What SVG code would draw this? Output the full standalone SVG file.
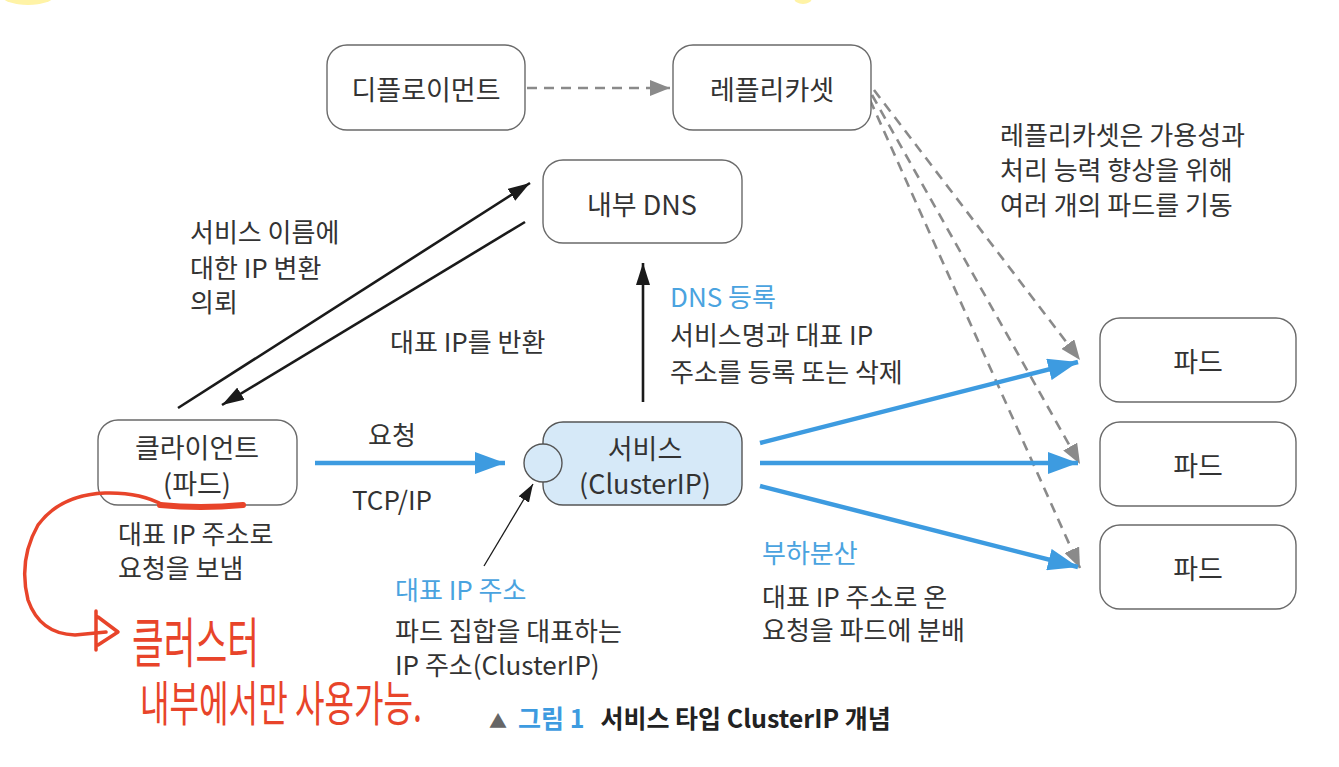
<svg xmlns="http://www.w3.org/2000/svg" width="1339" height="767" viewBox="0 0 1339 767">
<style>
text{font-family:"Noto Sans CJK KR","Noto Sans",sans-serif;font-size:26px;fill:#333}
.c{text-anchor:middle;dominant-baseline:central;font-size:27px}
.b{fill:#4aa3df}
.box{fill:#fff;stroke:#6a6a6a;stroke-width:1.4}
.svc{fill:#d6e9f8;stroke:#555;stroke-width:1.4}
.blk{stroke:#1a1a1a;stroke-width:2.6;fill:none}
.blu{stroke:#3d9be0;stroke-width:4.5;fill:none}
.dsh{stroke:#8a8a8a;stroke-width:2.6;stroke-dasharray:10 7;fill:none}
.red{stroke:#e8442a;fill:none;stroke-linecap:round;stroke-linejoin:round}
.hw{fill:#e8442a}
</style>
<defs>
<marker id="ak" markerUnits="userSpaceOnUse" markerWidth="24" markerHeight="14" refX="22" refY="7" orient="auto"><path d="M0,0 L22,7 L0,14 Z" fill="#1a1a1a"/></marker>
<marker id="ak2" markerUnits="userSpaceOnUse" markerWidth="20" markerHeight="12" refX="18" refY="6" orient="auto"><path d="M0,0 L18,6 L0,12 Z" fill="#1a1a1a"/></marker>
<marker id="ab" markerUnits="userSpaceOnUse" markerWidth="32" markerHeight="22" refX="30" refY="11" orient="auto"><path d="M0,0 L30,11 L0,22 Z" fill="#3d9be0"/></marker>
<marker id="ag" markerUnits="userSpaceOnUse" markerWidth="22" markerHeight="16" refX="20" refY="8" orient="auto"><path d="M0,0 L20,8 L0,16 Z" fill="#8a8a8a"/></marker>
</defs>
<rect width="1339" height="767" fill="#fff"/>
<ellipse cx="28" cy="-4" rx="26" ry="9" fill="#fff3a6"/>
<ellipse cx="803" cy="-2" rx="9" ry="6" fill="#fff3a6"/>

<g id="connectors">
<line class="dsh" x1="527" y1="88" x2="670" y2="88" marker-end="url(#ag)"/>
<line class="dsh" x1="874" y1="90" x2="1080" y2="360" marker-end="url(#ag)"/>
<line class="dsh" x1="872" y1="95" x2="1080" y2="464" marker-end="url(#ag)"/>
<line class="dsh" x1="870" y1="100" x2="1080" y2="568" marker-end="url(#ag)"/>
<line class="blk" x1="178" y1="408" x2="530" y2="183" marker-end="url(#ak)"/>
<line class="blk" x1="525" y1="222" x2="222" y2="405" marker-end="url(#ak)"/>
<line class="blk" x1="643" y1="402" x2="643" y2="263" marker-end="url(#ak)"/>
<line class="blk" style="stroke-width:1.3" x1="484" y1="566" x2="533" y2="484" marker-end="url(#ak2)"/>
<line class="blu" x1="315" y1="463" x2="505" y2="463" marker-end="url(#ab)"/>
<line class="blu" x1="760" y1="443" x2="1078" y2="362" marker-end="url(#ab)"/>
<line class="blu" x1="760" y1="463" x2="1078" y2="463" marker-end="url(#ab)"/>
<line class="blu" x1="760" y1="486" x2="1078" y2="567" marker-end="url(#ab)"/>
</g>

<g id="deployment"><rect class="box" x="327" y="45" width="198" height="85" rx="20"/><text class="c" x="426" y="88">디플로이먼트</text></g>
<g id="replicaset"><rect class="box" x="673" y="45" width="198" height="85" rx="20"/><text class="c" x="772" y="88">레플리카셋</text></g>
<g id="dns"><rect class="box" x="543" y="160" width="199" height="83" rx="20"/><text class="c" x="642" y="203">내부 DNS</text></g>
<g id="client"><rect class="box" x="98" y="420" width="199" height="85" rx="20"/><text class="c" x="197" y="446">클라이언트</text><text class="c" x="197" y="482">(파드)</text></g>
<g id="service"><rect class="svc" x="543" y="422" width="199" height="83" rx="20"/><circle cx="543" cy="463" r="19" fill="#d6e9f8" stroke="#555" stroke-width="1.4"/><text class="c" x="645" y="447">서비스</text><text class="c" x="645" y="482">(ClusterIP)</text></g>
<g id="pod1"><rect class="box" x="1100" y="318" width="196" height="84" rx="20"/><text class="c" x="1198" y="360">파드</text></g>
<g id="pod2"><rect class="box" x="1100" y="422" width="196" height="84" rx="20"/><text class="c" x="1198" y="464">파드</text></g>
<g id="pod3"><rect class="box" x="1100" y="525" width="196" height="84" rx="20"/><text class="c" x="1198" y="567">파드</text></g>

<g id="labels">
<text x="1000" y="145">레플리카셋은 가용성과</text>
<text x="1000" y="180">처리 능력 향상을 위해</text>
<text x="1000" y="215">여러 개의 파드를 기동</text>
<text x="190" y="242">서비스 이름에</text>
<text x="190" y="278">대한 IP 변환</text>
<text x="190" y="312">의뢰</text>
<text x="390" y="352">대표 IP를 반환</text>
<text class="b" x="670" y="307">DNS 등록</text>
<text x="670" y="345">서비스명과 대표 IP</text>
<text x="670" y="382">주소를 등록 또는 삭제</text>
<text x="368" y="445">요청</text>
<text x="352" y="510">TCP/IP</text>
<text x="118" y="544">대표 IP 주소로</text>
<text x="118" y="578">요청을 보냄</text>
<text class="b" x="395" y="600">대표 IP 주소</text>
<text x="395" y="641">파드 집합을 대표하는</text>
<text x="395" y="675">IP 주소(ClusterIP)</text>
<text class="b" x="762" y="563">부하분산</text>
<text x="762" y="607">대표 IP 주소로 온</text>
<text x="762" y="640">요청을 파드에 분배</text>
</g>

<g id="caption">
<text x="489" y="728" style="font-weight:bold;font-size:25px;fill:#222"><tspan style="font-size:18px;fill:#666;font-weight:normal">▲</tspan><tspan dx="11" style="fill:#3d9be0">그림 1</tspan><tspan dx="16">서비스 타입 ClusterIP 개념</tspan></text>
</g>

<g id="annotation">
<path class="red" style="stroke-width:6" d="M160,505 Q200,509 243,505"/>
<path class="red" style="stroke-width:3.5" d="M163,505 Q140,492 105,493 Q60,495 38,525 Q18,560 28,600 Q40,634 75,635 L106,632"/>
<path class="red" style="stroke-width:3.5" d="M96,611 L96,650 M98,617 L118,632 L98,645"/>
<text class="hw" x="132" y="663" style="font-size:54px" textLength="127" lengthAdjust="spacingAndGlyphs">클러스터</text>
<text class="hw" x="140" y="721" style="font-size:48px" textLength="282" lengthAdjust="spacingAndGlyphs">내부에서만 사용가능.</text>
</g>
</svg>
